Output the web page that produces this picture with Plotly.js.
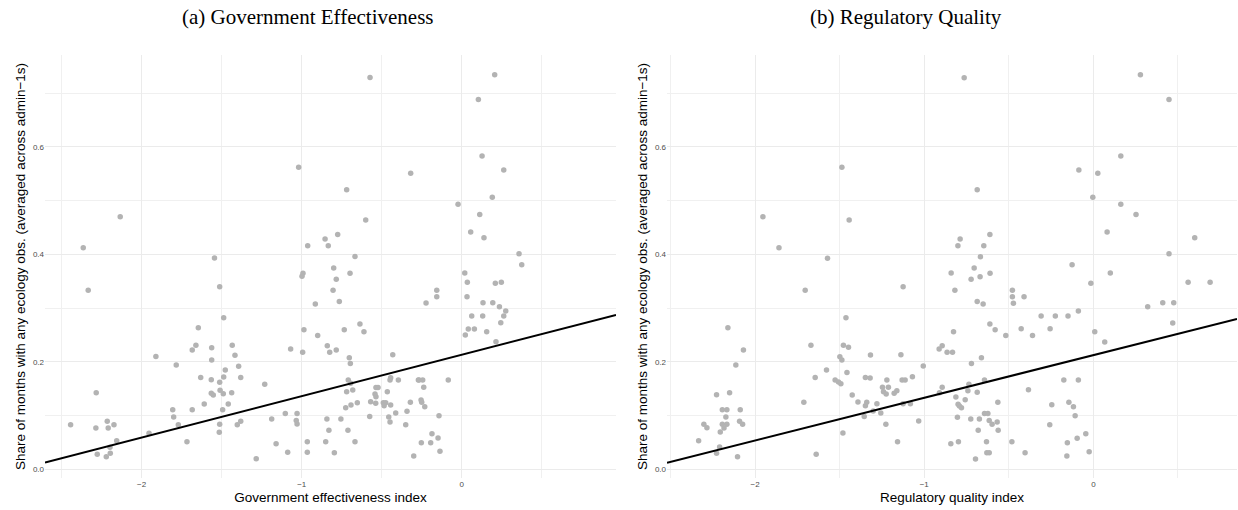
<!DOCTYPE html>
<html>
<head>
<meta charset="utf-8">
<script src="https://cdn.plot.ly/plotly-3.0.1.min.js"></script>
<style>html,body{margin:0;padding:0;background:#fff;}#chart{width:1238px;height:510px;}</style>
</head>
<body>
<div id="chart"></div>
<script>
// ---- Panel (a): Government effectiveness ----
const govX = [-2.365,-2.134,-1.545,-0.573,-1.019,-0.319,-0.719,-0.600,-0.775,-0.854,-0.9625,-0.834,-0.667,
  0.206,0.104,0.127,0.2625,0.191,-0.023,0.1125,0.056,0.139,0.358,
  -2.334,-1.646,-1.911,-1.661,-1.684,-1.5625,-1.5625,-1.784,-1.631,-1.565,-1.565,-1.5525,-1.609,-2.284,-1.806,-1.684,-1.800,-1.771,-2.444,-2.286,-2.215,-2.209,-2.173,-1.954,-2.156,-1.717,-2.198,-2.2775,-2.196,-2.221,
  -0.800,-0.698,-0.992,-0.998,-0.784,-1.5125,-0.804,-0.765,-0.915,-1.4875,-0.636,-0.986,-0.734,-0.611,-0.900,-1.434,-0.840,-1.069,-0.784,-0.825,-0.994,-1.417,-0.7025,-0.431,-0.696,-1.394,-1.4775,-1.4875,-1.381,-1.5125,-1.231,-0.709,-0.694,-0.448,-0.444,
  -0.536,-0.523,-0.542,-0.536,-0.569,-0.5375,-0.49,-0.475,-0.485,-0.465,-0.444,-0.4125,-0.456,-0.448,-0.575,-0.35,-0.342,-0.321,-0.30,-0.396,-0.271,
  -0.719,-0.681,-0.725,-0.692,-0.6525,-0.711,-0.667,-0.755,-0.8425,-0.83,-0.85,-0.796,-0.965,-0.965,-1.0875,-1.16,-1.284,-1.1875,-1.1025,-1.029,-1.034,-1.029,-1.381,-1.4025,-1.5125,-1.515,-1.494,-1.459,-1.4375,-1.49,-1.51,
  0.375,0.019,0.035,0.21,0.2475,-0.156,-0.156,-0.223,0.033,0.133,0.194,0.2356,0.275,0.2625,0.0625,0.131,0.244,0.041,0.079,0.156,0.0225,0.214,
  -0.267,-0.244,-0.084,-0.2375,-0.254,-0.25,-0.231,-0.142,-0.186,-0.2525,-0.194,-0.148,-0.136];
const govY = [0.412,0.470,0.393,0.729,0.562,0.551,0.520,0.464,0.437,0.4285,0.416,0.416,0.396,
  0.734,0.688,0.583,0.557,0.506,0.493,0.474,0.4415,0.431,0.401,
  0.333,0.2635,0.210,0.2307,0.222,0.226,0.2034,0.194,0.171,0.1667,0.1414,0.138,0.1215,0.1425,0.111,0.111,0.0973,0.083,0.083,0.0768,0.0893,0.0768,0.083,0.067,0.053,0.0514,0.041,0.0279,0.0298,0.0235,
  0.3745,0.3646,0.3646,0.359,0.3535,0.3398,0.333,0.312,0.3075,0.282,0.2703,0.2598,0.2598,0.256,0.249,0.2307,0.230,0.2238,0.222,0.2176,0.2176,0.212,0.2077,0.2133,0.197,0.1916,0.1847,0.1717,0.171,0.1618,0.158,0.166,0.160,0.166,0.1705,
  0.152,0.152,0.140,0.135,0.1258,0.1228,0.124,0.124,0.118,0.1444,0.1196,0.1047,0.0973,0.088,0.098,0.083,0.108,0.1246,0.0247,0.166,0.166,
  0.1444,0.1475,0.1146,0.1196,0.124,0.0725,0.0514,0.0936,0.0936,0.0725,0.0514,0.031,0.0514,0.0316,0.0316,0.0477,0.0198,0.0936,0.104,0.104,0.091,0.0843,0.0893,0.083,0.0837,0.0688,0.111,0.1215,0.1425,0.1407,0.147,
  0.3807,0.3652,0.348,0.346,0.348,0.333,0.321,0.3094,0.321,0.31,0.31,0.3026,0.2945,0.2852,0.2852,0.2852,0.2728,0.261,0.261,0.256,0.2498,0.2374,
  0.166,0.166,0.166,0.1525,0.129,0.1246,0.1165,0.0998,0.0663,0.0495,0.0495,0.0582,0.0335];
const govFit = [0.213, 0.077]; // intercept, slope

// ---- Panel (b): Regulatory quality ----
const regX = [-1.954,-1.859,-1.572,
  -0.764,-1.487,-0.687,-1.444,-0.612,-0.788,-0.801,-0.648,-0.668,
  0.278,0.447,0.162,-0.086,0.026,-0.0035,0.162,0.252,0.081,0.599,0.447,
  -1.704,-2.161,-2.069,-1.670,-2.114,-1.578,-1.645,-1.527,-2.228,-2.151,-1.712,-2.194,-2.167,-2.088,-2.173,-2.303,-2.285,-2.194,-2.167,-2.184,-2.092,-2.074,-2.206,-2.334,-2.210,-2.228,-2.104,-1.639,
  -0.705,-0.841,-0.670,-0.611,-0.723,-1.125,-0.819,-0.687,-0.652,-0.479,-0.479,-0.473,-0.41,-1.463,-0.612,-0.827,-0.581,-0.518,-0.427,-0.36,
  -1.478,-1.448,-1.499,-1.487,-1.318,-1.138,-0.912,-0.894,-0.865,-0.833,-0.662,-0.721,-1.006,-1.457,-1.507,-1.493,-1.348,-1.32,-1.221,-1.131,-1.113,-1.07,-1.247,-1.212,-1.241,-1.225,-1.178,-1.162,-1.426,-1.392,-1.348,-1.34,-1.28,-1.302,-1.257,-1.355,-1.125,-1.082,-1.227,-1.033,-1.481,-1.158,
  -0.91,-0.894,-0.813,-0.80,-0.792,-0.78,-0.758,-0.742,-0.736,-0.687,-0.644,-0.804,-0.725,-0.674,-0.644,-0.624,-0.616,-0.599,-0.569,-0.565,-0.681,-0.563,-0.843,-0.798,-0.632,-0.63,-0.616,-0.697,-0.482,-0.404,-0.384,
  -0.126,0.1,-0.015,0.56,0.69,0.321,0.41,0.475,-0.309,-0.225,-0.15,-0.089,-0.256,0.008,0.067,0.469,-0.175,-0.089,-0.246,-0.145,-0.118,-0.108,-0.258,-0.045,-0.154,-0.096,-0.025,-0.157];
const regY = [0.470,0.412,0.3925,
  0.7286,0.562,0.520,0.464,0.437,0.4285,0.416,0.416,0.3956,
  0.734,0.688,0.583,0.557,0.551,0.506,0.493,0.474,0.4415,0.431,0.401,
  0.333,0.2635,0.222,0.2307,0.194,0.1847,0.171,0.166,0.1388,0.1425,0.1246,0.111,0.111,0.111,0.0973,0.0837,0.0774,0.0837,0.0837,0.0768,0.0893,0.0837,0.0694,0.053,0.0415,0.0298,0.0235,0.0279,
  0.3745,0.3652,0.3584,0.3646,0.3535,0.3398,0.333,0.312,0.3075,0.333,0.321,0.3088,0.321,0.282,0.2703,0.256,0.2598,0.249,0.2616,0.249,
  0.2307,0.227,0.2095,0.2034,0.2127,0.2133,0.2238,0.23,0.2176,0.2176,0.2077,0.197,0.192,0.180,0.1624,0.159,0.171,0.170,0.166,0.166,0.166,0.1723,0.1525,0.1525,0.1444,0.140,0.1414,0.1463,0.138,0.125,0.118,0.1246,0.122,0.1085,0.1047,0.098,0.122,0.122,0.0837,0.0899,0.0675,0.0514,
  0.1425,0.1525,0.1345,0.121,0.1178,0.1146,0.1295,0.1463,0.158,0.1432,0.166,0.0967,0.0936,0.0936,0.104,0.104,0.091,0.0837,0.088,0.1246,0.0725,0.0725,0.0477,0.0514,0.0514,0.031,0.031,0.0192,0.0514,0.031,0.148,
  0.3807,0.3652,0.346,0.348,0.348,0.3026,0.31,0.31,0.2852,0.2852,0.2852,0.2945,0.2616,0.256,0.2368,0.2722,0.166,0.166,0.120,0.1246,0.1165,0.0998,0.083,0.0663,0.0495,0.0577,0.0328,0.0247];
const regFit = [0.2125, 0.0794];

const panelTitles = ['(a) Government Effectiveness', '(b) Regulatory Quality'];
const xTitles = ['Government effectiveness index', 'Regulatory quality index'];
const yTitle = 'Share of months with any ecology obs. (averaged across admin\u22121s)';

const W = 1238, H = 510;
const xRangeA = [-2.604, 0.964];
const xRangeB = [-2.521, 0.849];
const yRange = [-0.0162, 0.7708];

function fitLine(fit, range) {
  return { x: range.slice(), y: range.map(v => fit[0] + fit[1] * v) };
}
const lineA = fitLine(govFit, xRangeA);
const lineB = fitLine(regFit, xRangeB);

const pointStyle = { size: 5.5, color: '#b3b3b3', line: { width: 0 } };
const lineStyle = { color: '#000000', width: 2 };

const traces = [
  { x: govX, y: govY, type: 'scatter', mode: 'markers', marker: pointStyle, xaxis: 'x', yaxis: 'y', hoverinfo: 'skip' },
  { x: lineA.x, y: lineA.y, type: 'scatter', mode: 'lines', line: lineStyle, xaxis: 'x', yaxis: 'y', hoverinfo: 'skip' },
  { x: regX, y: regY, type: 'scatter', mode: 'markers', marker: pointStyle, xaxis: 'x2', yaxis: 'y2', hoverinfo: 'skip' },
  { x: lineB.x, y: lineB.y, type: 'scatter', mode: 'lines', line: lineStyle, xaxis: 'x2', yaxis: 'y2', hoverinfo: 'skip' }
];

const grid = '#ebebeb';
const tickFont = { family: 'Liberation Sans, Arial, sans-serif', size: 8, color: '#4d4d4d' };
const titleFont = { family: 'Liberation Sans, Arial, sans-serif', size: 13.5, color: '#000000' };

function xAxis(domain, range, title, anchor) {
  return {
    domain: domain, range: range, anchor: anchor,
    tick0: 0, dtick: 1, ticks: '', showline: false, zeroline: false,
    showgrid: true, gridcolor: grid, gridwidth: 1,
    minor: { tick0: 0, dtick: 0.5, showgrid: true, gridcolor: '#f0f0f0', gridwidth: 1 },
    tickfont: tickFont,
    title: { text: title, font: titleFont, standoff: 4 }
  };
}
function yAxis(range, anchor) {
  return {
    domain: [32 / H, 455 / H], range: range, anchor: anchor,
    tick0: 0, dtick: 0.2, tickformat: '.1f', ticks: '', showline: false, zeroline: false,
    showgrid: true, gridcolor: grid, gridwidth: 1,
    minor: { tick0: 0, dtick: 0.1, showgrid: true, gridcolor: '#f0f0f0', gridwidth: 1 },
    tickfont: tickFont,
    title: { text: yTitle, font: titleFont, standoff: 4 }
  };
}

const layout = {
  width: W, height: H,
  margin: { l: 0, r: 0, t: 0, b: 0 },
  paper_bgcolor: '#ffffff', plot_bgcolor: '#ffffff',
  showlegend: false,
  font: { family: 'Liberation Sans, Arial, sans-serif' },
  xaxis: xAxis([45 / W, 616 / W], xRangeA, xTitles[0], 'y'),
  yaxis: yAxis(yRange, 'x'),
  xaxis2: xAxis([667 / W, 1237 / W], xRangeB, xTitles[1], 'y2'),
  yaxis2: yAxis(yRange, 'x2'),
  annotations: [
    { text: panelTitles[0], xref: 'paper', yref: 'paper', x: 307.5 / W, y: 1 - 17 / H, xanchor: 'center', yanchor: 'middle', showarrow: false,
      font: { family: 'Liberation Serif, Times New Roman, serif', size: 21, color: '#000000' } },
    { text: panelTitles[1], xref: 'paper', yref: 'paper', x: 905.5 / W, y: 1 - 17 / H, xanchor: 'center', yanchor: 'middle', showarrow: false,
      font: { family: 'Liberation Serif, Times New Roman, serif', size: 21, color: '#000000' } }
  ]
};

Plotly.newPlot('chart', traces, layout, { displayModeBar: false, staticPlot: true });
</script>
</body>
</html>
